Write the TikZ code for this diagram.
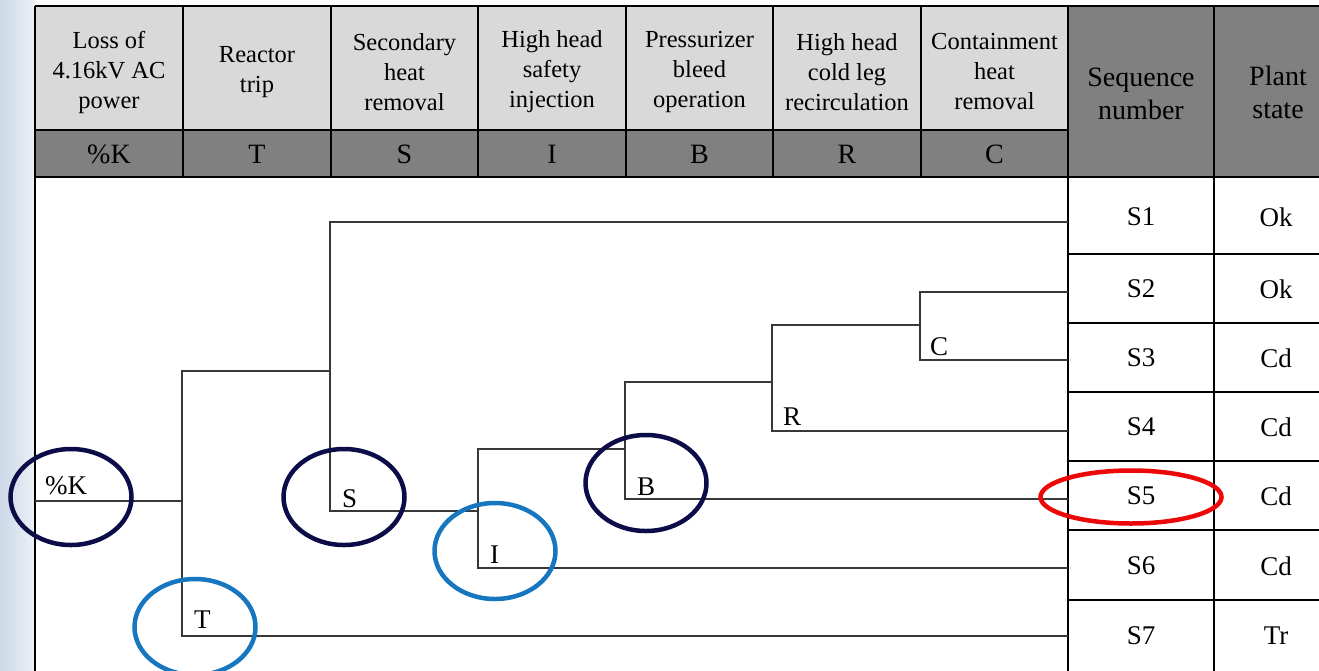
\documentclass[tikz,border=0pt]{standalone}
\usepackage{fontspec}
\setmainfont{Liberation Serif}
\newfontfamily\tnr{Liberation Serif}
\usetikzlibrary{shapes.geometric}
\definecolor{hdrlight}{RGB}{217,217,217}
\definecolor{hdrdark}{RGB}{128,128,128}
\definecolor{navy}{RGB}{12,12,72}
\definecolor{ringblue}{RGB}{22,118,192}
\definecolor{ringred}{RGB}{236,8,8}
\definecolor{bgl}{RGB}{203,216,231}
\definecolor{bgr}{RGB}{236,241,247}
\begin{document}
\begin{tikzpicture}[x=1pt,y=-1pt,
  gridline/.style={draw=black,line width=1.8pt},
  branch/.style={draw=black!78,line width=1.4pt},
  htext/.style={align=center,inner sep=0pt,font=\tnr\fontsize{24.5}{30}\selectfont},
  rtext/.style={align=center,inner sep=0pt,font=\tnr\fontsize{28}{33}\selectfont},
  ctext/.style={inner sep=0pt,font=\tnr\fontsize{27}{32}\selectfont},
  lbl/.style={inner sep=0pt,anchor=base west,font=\tnr\fontsize{27}{32}\selectfont},
  ring/.style={draw,shape=ellipse,inner sep=0pt,line width=4.5pt,minimum width=121pt,minimum height=96pt},
  navyring/.style={ring,draw=navy},
  bluering/.style={ring,draw=ringblue}]
\useasboundingbox (0,0) rectangle (1319,670);
\clip (0,0) rectangle (1319,670);
% background
\fill[white] (0,0) rectangle (1319,670);
\shade[left color=bgl,right color=bgr] (0,0) rectangle (35,670);
% header fills
\fill[hdrlight] (35,6) rectangle (1068,130);
\fill[hdrdark] (35,130) rectangle (1068,177);
\fill[hdrdark] (1068,6) rectangle (1345,177);
% table grid
\draw[gridline] (35,6) -- (1345,6);
\draw[gridline] (35,130) -- (1068,130);
\draw[gridline] (35,177) -- (1345,177);
\draw[gridline] (35,6) -- (35,680);
\foreach \x in {183,331,478,626,773,921} \draw[gridline] (\x,6) -- (\x,177);
\draw[gridline] (1068,6) -- (1068,680);
\draw[gridline] (1214,6) -- (1214,680);
\foreach \y in {254,323,392,461,530,600} \draw[gridline] (1068,\y) -- (1345,\y);
% header texts
\node[htext] (h1) at (109,72) {Loss of\\4.16kV AC\\power};
\node[htext] (h2) at (257,72) {Reactor\\trip};
\node[htext] (h3) at (404.5,72) {Secondary\\heat\\removal};
\node[htext] (h4) at (552,72) {High head\\safety\\injection};
\node[htext] (h5) at (699.5,72) {Pressurizer\\bleed\\operation};
\node[htext] (h6) at (847,72) {High head\\cold leg\\recirculation};
\node[htext] (h7) at (994.5,72) {Containment\\heat\\removal};
\node[rtext] (h8) at (1141,94) {Sequence\\number};
\node[rtext] (h9) at (1278,92) {Plant\\state};
\node[rtext] (d1) at (109,154) {\%K};
\node[rtext] (d2) at (257,154) {T};
\node[rtext] (d3) at (404.5,154) {S};
\node[rtext] (d4) at (552,154) {I};
\node[rtext] (d5) at (699.5,154) {B};
\node[rtext] (d6) at (847,154) {R};
\node[rtext] (d7) at (994.5,154) {C};
% sequence cells
\foreach \n/\y/\st in {1/217/Ok,2/289/Ok,3/358/Cd,4/427/Cd,5/496/Cd,6/566/Cd,7/636/Tr}{
  \node[ctext] (s\n) at (1141,\y) {S\n};
  \node[ctext] (p\n) at (1276,\y) {\st};
}
% tree coordinates
\coordinate (root) at (35,501);
\coordinate (nK) at (182,501);
\coordinate (nS) at (330,371);
\coordinate (nI) at (478,511);
\coordinate (nB) at (625,449);
\coordinate (nR) at (772,382);
\coordinate (nC) at (920,325);
\coordinate (e1) at (1068,222);
\coordinate (e2) at (1068,292);
\coordinate (e3) at (1068,360);
\coordinate (e4) at (1068,431);
\coordinate (e5) at (1068,499);
\coordinate (e6) at (1068,568);
\coordinate (e7) at (1068,636);
% tree branches
\draw[branch] (root) -- (nK);
\draw[branch] (nK) |- (nS);
\draw[branch] (nK) |- (e7);
\draw[branch] (nS) |- (e1);
\draw[branch] (nS) |- (nI);
\draw[branch] (nI) |- (nB);
\draw[branch] (nI) |- (e6);
\draw[branch] (nB) |- (nR);
\draw[branch] (nB) |- (e5);
\draw[branch] (nR) |- (nC);
\draw[branch] (nR) |- (e4);
\draw[branch] (nC) |- (e2);
\draw[branch] (nC) |- (e3);
% tree labels
\node[lbl] (lK) at (45,494) {\%K};
\node[lbl] (lT) at (194,628) {T};
\node[lbl] (lS) at (342,507) {S};
\node[lbl] (lI) at (490,563) {I};
\node[lbl] (lB) at (637,495) {B};
\node[lbl] (lR) at (783,425) {R};
\node[lbl] (lC) at (930,355) {C};
% highlight rings
\node[navyring] (rK) at (71,497) {};
\node[bluering] (rT) at (195,627) {};
\node[navyring] (rS) at (344,497) {};
\node[bluering] (rI) at (495,551) {};
\node[navyring] (rB) at (646,483) {};
\node[ring,draw=ringred,minimum width=181pt,minimum height=53pt] (rS5) at (1131,497) {};
\end{tikzpicture}
\end{document}
